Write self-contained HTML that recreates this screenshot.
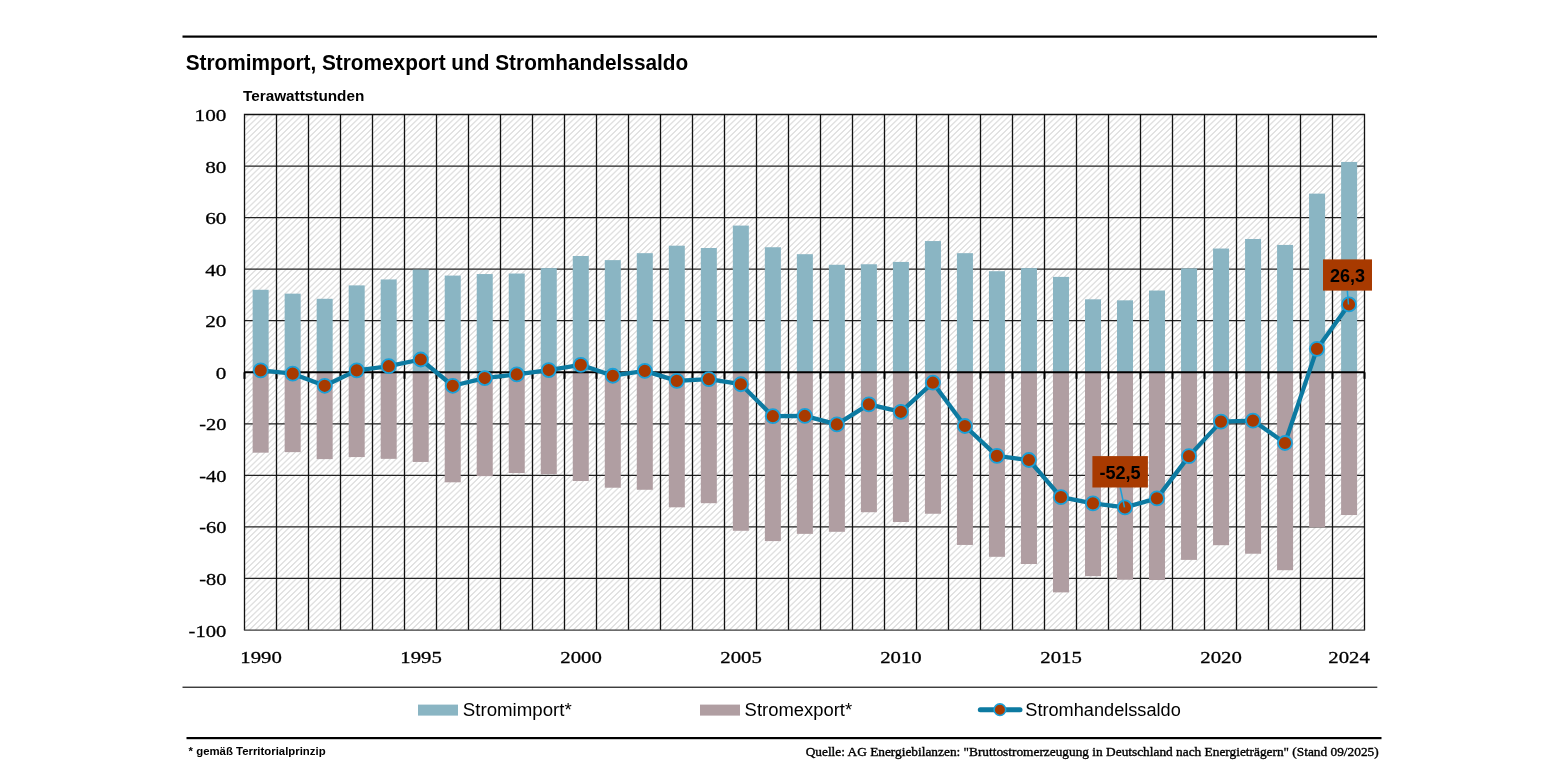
<!DOCTYPE html>
<html><head><meta charset="utf-8">
<style>
html,body{margin:0;padding:0;background:#fff;}
body{width:1545px;height:775px;overflow:hidden;position:relative;}
svg{position:absolute;left:0;top:0;will-change:transform;}
text{font-family:"Liberation Sans",sans-serif;}
.sr{font-family:"Liberation Serif",serif;}
</style></head><body>
<svg width="1545" height="775" viewBox="0 0 1545 775">
<defs>
<pattern id="hatch" patternUnits="userSpaceOnUse" width="6" height="5.8" patternTransform="translate(0.5,0.5)">
<rect width="6" height="5.8" fill="#fff"/>
<path d="M-1.5,1.45 L1.5,-1.45 M0,5.8 L6,0 M4.5,7.25 L7.5,4.35" stroke="#b8b8b8" stroke-width="0.85"/>
</pattern>
</defs>

<rect x="182.5" y="35.5" width="1194.5" height="2.2" fill="#000"/>
<text x="185.7" y="69.7" font-size="22" font-weight="bold" textLength="502.5" lengthAdjust="spacingAndGlyphs">Stromimport, Stromexport und Stromhandelssaldo</text>
<text x="243" y="100.9" font-size="15.4" font-weight="bold" textLength="121.3" lengthAdjust="spacingAndGlyphs">Terawattstunden</text>
<rect x="244.5" y="114.5" width="1120.0" height="515.6" fill="url(#hatch)"/>
<line x1="244.5" y1="578.45" x2="1364.5" y2="578.45" stroke="#222" stroke-width="1.3"/>
<line x1="244.5" y1="526.90" x2="1364.5" y2="526.90" stroke="#222" stroke-width="1.3"/>
<line x1="244.5" y1="475.35" x2="1364.5" y2="475.35" stroke="#222" stroke-width="1.3"/>
<line x1="244.5" y1="423.80" x2="1364.5" y2="423.80" stroke="#222" stroke-width="1.3"/>
<line x1="244.5" y1="320.70" x2="1364.5" y2="320.70" stroke="#222" stroke-width="1.3"/>
<line x1="244.5" y1="269.15" x2="1364.5" y2="269.15" stroke="#222" stroke-width="1.3"/>
<line x1="244.5" y1="217.60" x2="1364.5" y2="217.60" stroke="#222" stroke-width="1.3"/>
<line x1="244.5" y1="166.05" x2="1364.5" y2="166.05" stroke="#222" stroke-width="1.3"/>
<line x1="276.5" y1="114.5" x2="276.5" y2="630.1" stroke="#111" stroke-width="1.3"/>
<line x1="308.5" y1="114.5" x2="308.5" y2="630.1" stroke="#111" stroke-width="1.3"/>
<line x1="340.5" y1="114.5" x2="340.5" y2="630.1" stroke="#111" stroke-width="1.3"/>
<line x1="372.5" y1="114.5" x2="372.5" y2="630.1" stroke="#111" stroke-width="1.3"/>
<line x1="404.5" y1="114.5" x2="404.5" y2="630.1" stroke="#111" stroke-width="1.3"/>
<line x1="436.5" y1="114.5" x2="436.5" y2="630.1" stroke="#111" stroke-width="1.3"/>
<line x1="468.5" y1="114.5" x2="468.5" y2="630.1" stroke="#111" stroke-width="1.3"/>
<line x1="500.5" y1="114.5" x2="500.5" y2="630.1" stroke="#111" stroke-width="1.3"/>
<line x1="532.5" y1="114.5" x2="532.5" y2="630.1" stroke="#111" stroke-width="1.3"/>
<line x1="564.5" y1="114.5" x2="564.5" y2="630.1" stroke="#111" stroke-width="1.3"/>
<line x1="596.5" y1="114.5" x2="596.5" y2="630.1" stroke="#111" stroke-width="1.3"/>
<line x1="628.5" y1="114.5" x2="628.5" y2="630.1" stroke="#111" stroke-width="1.3"/>
<line x1="660.5" y1="114.5" x2="660.5" y2="630.1" stroke="#111" stroke-width="1.3"/>
<line x1="692.5" y1="114.5" x2="692.5" y2="630.1" stroke="#111" stroke-width="1.3"/>
<line x1="724.5" y1="114.5" x2="724.5" y2="630.1" stroke="#111" stroke-width="1.3"/>
<line x1="756.5" y1="114.5" x2="756.5" y2="630.1" stroke="#111" stroke-width="1.3"/>
<line x1="788.5" y1="114.5" x2="788.5" y2="630.1" stroke="#111" stroke-width="1.3"/>
<line x1="820.5" y1="114.5" x2="820.5" y2="630.1" stroke="#111" stroke-width="1.3"/>
<line x1="852.5" y1="114.5" x2="852.5" y2="630.1" stroke="#111" stroke-width="1.3"/>
<line x1="884.5" y1="114.5" x2="884.5" y2="630.1" stroke="#111" stroke-width="1.3"/>
<line x1="916.5" y1="114.5" x2="916.5" y2="630.1" stroke="#111" stroke-width="1.3"/>
<line x1="948.5" y1="114.5" x2="948.5" y2="630.1" stroke="#111" stroke-width="1.3"/>
<line x1="980.5" y1="114.5" x2="980.5" y2="630.1" stroke="#111" stroke-width="1.3"/>
<line x1="1012.5" y1="114.5" x2="1012.5" y2="630.1" stroke="#111" stroke-width="1.3"/>
<line x1="1044.5" y1="114.5" x2="1044.5" y2="630.1" stroke="#111" stroke-width="1.3"/>
<line x1="1076.5" y1="114.5" x2="1076.5" y2="630.1" stroke="#111" stroke-width="1.3"/>
<line x1="1108.5" y1="114.5" x2="1108.5" y2="630.1" stroke="#111" stroke-width="1.3"/>
<line x1="1140.5" y1="114.5" x2="1140.5" y2="630.1" stroke="#111" stroke-width="1.3"/>
<line x1="1172.5" y1="114.5" x2="1172.5" y2="630.1" stroke="#111" stroke-width="1.3"/>
<line x1="1204.5" y1="114.5" x2="1204.5" y2="630.1" stroke="#111" stroke-width="1.3"/>
<line x1="1236.5" y1="114.5" x2="1236.5" y2="630.1" stroke="#111" stroke-width="1.3"/>
<line x1="1268.5" y1="114.5" x2="1268.5" y2="630.1" stroke="#111" stroke-width="1.3"/>
<line x1="1300.5" y1="114.5" x2="1300.5" y2="630.1" stroke="#111" stroke-width="1.3"/>
<line x1="1332.5" y1="114.5" x2="1332.5" y2="630.1" stroke="#111" stroke-width="1.3"/>
<path d="M244.5,630.1 L244.5,114.5 L1364.5,114.5 L1364.5,630.1" fill="none" stroke="#111" stroke-width="1.3"/>
<line x1="243.9" y1="630.1" x2="1365.1" y2="630.1" stroke="#3a3a3a" stroke-width="1.3"/>
<rect x="252.65" y="289.77" width="16" height="82.48" fill="#8ab5c3"/>
<rect x="252.65" y="372.25" width="16" height="80.42" fill="#b09ea2"/>
<rect x="284.6632352941176" y="293.64" width="16" height="78.61" fill="#8ab5c3"/>
<rect x="284.6632352941176" y="372.25" width="16" height="79.90" fill="#b09ea2"/>
<rect x="316.67647058823525" y="298.79" width="16" height="73.46" fill="#8ab5c3"/>
<rect x="316.67647058823525" y="372.25" width="16" height="86.86" fill="#b09ea2"/>
<rect x="348.68970588235294" y="285.39" width="16" height="86.86" fill="#8ab5c3"/>
<rect x="348.68970588235294" y="372.25" width="16" height="84.80" fill="#b09ea2"/>
<rect x="380.7029411764706" y="279.46" width="16" height="92.79" fill="#8ab5c3"/>
<rect x="380.7029411764706" y="372.25" width="16" height="86.60" fill="#b09ea2"/>
<rect x="412.7161764705882" y="269.67" width="16" height="102.58" fill="#8ab5c3"/>
<rect x="412.7161764705882" y="372.25" width="16" height="89.70" fill="#b09ea2"/>
<rect x="444.72941176470584" y="275.59" width="16" height="96.66" fill="#8ab5c3"/>
<rect x="444.72941176470584" y="372.25" width="16" height="110.06" fill="#b09ea2"/>
<rect x="476.7426470588235" y="274.05" width="16" height="98.20" fill="#8ab5c3"/>
<rect x="476.7426470588235" y="372.25" width="16" height="103.87" fill="#b09ea2"/>
<rect x="508.75588235294117" y="273.53" width="16" height="98.72" fill="#8ab5c3"/>
<rect x="508.75588235294117" y="372.25" width="16" height="100.78" fill="#b09ea2"/>
<rect x="540.7691176470588" y="268.12" width="16" height="104.13" fill="#8ab5c3"/>
<rect x="540.7691176470588" y="372.25" width="16" height="101.81" fill="#b09ea2"/>
<rect x="572.7823529411764" y="256.00" width="16" height="116.25" fill="#8ab5c3"/>
<rect x="572.7823529411764" y="372.25" width="16" height="108.77" fill="#b09ea2"/>
<rect x="604.7955882352941" y="260.13" width="16" height="112.12" fill="#8ab5c3"/>
<rect x="604.7955882352941" y="372.25" width="16" height="115.47" fill="#b09ea2"/>
<rect x="636.8088235294117" y="253.17" width="16" height="119.08" fill="#8ab5c3"/>
<rect x="636.8088235294117" y="372.25" width="16" height="117.53" fill="#b09ea2"/>
<rect x="668.8220588235293" y="245.69" width="16" height="126.56" fill="#8ab5c3"/>
<rect x="668.8220588235293" y="372.25" width="16" height="135.06" fill="#b09ea2"/>
<rect x="700.835294117647" y="248.01" width="16" height="124.24" fill="#8ab5c3"/>
<rect x="700.835294117647" y="372.25" width="16" height="130.94" fill="#b09ea2"/>
<rect x="732.8485294117647" y="225.59" width="16" height="146.66" fill="#8ab5c3"/>
<rect x="732.8485294117647" y="372.25" width="16" height="158.52" fill="#b09ea2"/>
<rect x="764.8617647058824" y="247.24" width="16" height="125.01" fill="#8ab5c3"/>
<rect x="764.8617647058824" y="372.25" width="16" height="168.83" fill="#b09ea2"/>
<rect x="796.875" y="254.20" width="16" height="118.05" fill="#8ab5c3"/>
<rect x="796.875" y="372.25" width="16" height="161.61" fill="#b09ea2"/>
<rect x="828.8882352941176" y="264.77" width="16" height="107.48" fill="#8ab5c3"/>
<rect x="828.8882352941176" y="372.25" width="16" height="159.55" fill="#b09ea2"/>
<rect x="860.9014705882353" y="264.25" width="16" height="108.00" fill="#8ab5c3"/>
<rect x="860.9014705882353" y="372.25" width="16" height="139.96" fill="#b09ea2"/>
<rect x="892.9147058823529" y="261.93" width="16" height="110.32" fill="#8ab5c3"/>
<rect x="892.9147058823529" y="372.25" width="16" height="149.75" fill="#b09ea2"/>
<rect x="924.9279411764705" y="241.06" width="16" height="131.19" fill="#8ab5c3"/>
<rect x="924.9279411764705" y="372.25" width="16" height="141.50" fill="#b09ea2"/>
<rect x="956.9411764705882" y="253.17" width="16" height="119.08" fill="#8ab5c3"/>
<rect x="956.9411764705882" y="372.25" width="16" height="172.69" fill="#b09ea2"/>
<rect x="988.9544117647058" y="271.21" width="16" height="101.04" fill="#8ab5c3"/>
<rect x="988.9544117647058" y="372.25" width="16" height="184.55" fill="#b09ea2"/>
<rect x="1020.9676470588236" y="268.12" width="16" height="104.13" fill="#8ab5c3"/>
<rect x="1020.9676470588236" y="372.25" width="16" height="191.77" fill="#b09ea2"/>
<rect x="1052.9808823529413" y="276.88" width="16" height="95.37" fill="#8ab5c3"/>
<rect x="1052.9808823529413" y="372.25" width="16" height="220.12" fill="#b09ea2"/>
<rect x="1084.9941176470588" y="299.31" width="16" height="72.94" fill="#8ab5c3"/>
<rect x="1084.9941176470588" y="372.25" width="16" height="203.88" fill="#b09ea2"/>
<rect x="1117.0073529411766" y="300.34" width="16" height="71.91" fill="#8ab5c3"/>
<rect x="1117.0073529411766" y="372.25" width="16" height="207.49" fill="#b09ea2"/>
<rect x="1149.020588235294" y="290.54" width="16" height="81.71" fill="#8ab5c3"/>
<rect x="1149.020588235294" y="372.25" width="16" height="207.75" fill="#b09ea2"/>
<rect x="1181.0338235294118" y="268.38" width="16" height="103.87" fill="#8ab5c3"/>
<rect x="1181.0338235294118" y="372.25" width="16" height="187.64" fill="#b09ea2"/>
<rect x="1213.0470588235296" y="248.53" width="16" height="123.72" fill="#8ab5c3"/>
<rect x="1213.0470588235296" y="372.25" width="16" height="172.95" fill="#b09ea2"/>
<rect x="1245.0602941176471" y="238.99" width="16" height="133.26" fill="#8ab5c3"/>
<rect x="1245.0602941176471" y="372.25" width="16" height="181.46" fill="#b09ea2"/>
<rect x="1277.0735294117649" y="244.92" width="16" height="127.33" fill="#8ab5c3"/>
<rect x="1277.0735294117649" y="372.25" width="16" height="197.95" fill="#b09ea2"/>
<rect x="1309.0867647058824" y="193.63" width="16" height="178.62" fill="#8ab5c3"/>
<rect x="1309.0867647058824" y="372.25" width="16" height="155.17" fill="#b09ea2"/>
<rect x="1341.1000000000001" y="161.93" width="16" height="210.32" fill="#8ab5c3"/>
<rect x="1341.1000000000001" y="372.25" width="16" height="142.79" fill="#b09ea2"/>
<line x1="244.5" y1="372.25" x2="1364.5" y2="372.25" stroke="#000" stroke-width="2"/>
<line x1="244.5" y1="372.25" x2="244.5" y2="378.85" stroke="#000" stroke-width="2"/>
<line x1="276.5" y1="372.25" x2="276.5" y2="378.85" stroke="#000" stroke-width="2"/>
<line x1="308.5" y1="372.25" x2="308.5" y2="378.85" stroke="#000" stroke-width="2"/>
<line x1="340.5" y1="372.25" x2="340.5" y2="378.85" stroke="#000" stroke-width="2"/>
<line x1="372.5" y1="372.25" x2="372.5" y2="378.85" stroke="#000" stroke-width="2"/>
<line x1="404.5" y1="372.25" x2="404.5" y2="378.85" stroke="#000" stroke-width="2"/>
<line x1="436.5" y1="372.25" x2="436.5" y2="378.85" stroke="#000" stroke-width="2"/>
<line x1="468.5" y1="372.25" x2="468.5" y2="378.85" stroke="#000" stroke-width="2"/>
<line x1="500.5" y1="372.25" x2="500.5" y2="378.85" stroke="#000" stroke-width="2"/>
<line x1="532.5" y1="372.25" x2="532.5" y2="378.85" stroke="#000" stroke-width="2"/>
<line x1="564.5" y1="372.25" x2="564.5" y2="378.85" stroke="#000" stroke-width="2"/>
<line x1="596.5" y1="372.25" x2="596.5" y2="378.85" stroke="#000" stroke-width="2"/>
<line x1="628.5" y1="372.25" x2="628.5" y2="378.85" stroke="#000" stroke-width="2"/>
<line x1="660.5" y1="372.25" x2="660.5" y2="378.85" stroke="#000" stroke-width="2"/>
<line x1="692.5" y1="372.25" x2="692.5" y2="378.85" stroke="#000" stroke-width="2"/>
<line x1="724.5" y1="372.25" x2="724.5" y2="378.85" stroke="#000" stroke-width="2"/>
<line x1="756.5" y1="372.25" x2="756.5" y2="378.85" stroke="#000" stroke-width="2"/>
<line x1="788.5" y1="372.25" x2="788.5" y2="378.85" stroke="#000" stroke-width="2"/>
<line x1="820.5" y1="372.25" x2="820.5" y2="378.85" stroke="#000" stroke-width="2"/>
<line x1="852.5" y1="372.25" x2="852.5" y2="378.85" stroke="#000" stroke-width="2"/>
<line x1="884.5" y1="372.25" x2="884.5" y2="378.85" stroke="#000" stroke-width="2"/>
<line x1="916.5" y1="372.25" x2="916.5" y2="378.85" stroke="#000" stroke-width="2"/>
<line x1="948.5" y1="372.25" x2="948.5" y2="378.85" stroke="#000" stroke-width="2"/>
<line x1="980.5" y1="372.25" x2="980.5" y2="378.85" stroke="#000" stroke-width="2"/>
<line x1="1012.5" y1="372.25" x2="1012.5" y2="378.85" stroke="#000" stroke-width="2"/>
<line x1="1044.5" y1="372.25" x2="1044.5" y2="378.85" stroke="#000" stroke-width="2"/>
<line x1="1076.5" y1="372.25" x2="1076.5" y2="378.85" stroke="#000" stroke-width="2"/>
<line x1="1108.5" y1="372.25" x2="1108.5" y2="378.85" stroke="#000" stroke-width="2"/>
<line x1="1140.5" y1="372.25" x2="1140.5" y2="378.85" stroke="#000" stroke-width="2"/>
<line x1="1172.5" y1="372.25" x2="1172.5" y2="378.85" stroke="#000" stroke-width="2"/>
<line x1="1204.5" y1="372.25" x2="1204.5" y2="378.85" stroke="#000" stroke-width="2"/>
<line x1="1236.5" y1="372.25" x2="1236.5" y2="378.85" stroke="#000" stroke-width="2"/>
<line x1="1268.5" y1="372.25" x2="1268.5" y2="378.85" stroke="#000" stroke-width="2"/>
<line x1="1300.5" y1="372.25" x2="1300.5" y2="378.85" stroke="#000" stroke-width="2"/>
<line x1="1332.5" y1="372.25" x2="1332.5" y2="378.85" stroke="#000" stroke-width="2"/>
<line x1="1364.5" y1="372.25" x2="1364.5" y2="378.85" stroke="#000" stroke-width="2"/>
<polyline points="260.70,370.32 292.71,373.67 324.72,385.78 356.73,370.32 388.74,366.19 420.74,359.49 452.75,385.78 484.76,378.05 516.77,374.44 548.78,370.06 580.79,364.90 612.80,375.73 644.81,370.83 676.81,380.88 708.82,379.08 740.83,384.24 772.84,416.20 804.85,415.94 836.86,424.44 868.87,404.34 900.88,411.81 932.89,382.69 964.89,425.99 996.90,455.89 1028.91,460.01 1060.92,497.13 1092.93,503.32 1124.94,507.44 1156.95,498.42 1188.96,456.15 1220.96,421.61 1252.97,420.58 1284.98,443.00 1316.99,348.92 1349.00,304.46" fill="none" stroke="#0d7aa1" stroke-width="4.3" stroke-linejoin="round"/>
<circle cx="260.70" cy="370.32" r="7.0" fill="#a83a00" stroke="#1ba0d8" stroke-width="1.8"/>
<circle cx="292.71" cy="373.67" r="7.0" fill="#a83a00" stroke="#1ba0d8" stroke-width="1.8"/>
<circle cx="324.72" cy="385.78" r="7.0" fill="#a83a00" stroke="#1ba0d8" stroke-width="1.8"/>
<circle cx="356.73" cy="370.32" r="7.0" fill="#a83a00" stroke="#1ba0d8" stroke-width="1.8"/>
<circle cx="388.74" cy="366.19" r="7.0" fill="#a83a00" stroke="#1ba0d8" stroke-width="1.8"/>
<circle cx="420.74" cy="359.49" r="7.0" fill="#a83a00" stroke="#1ba0d8" stroke-width="1.8"/>
<circle cx="452.75" cy="385.78" r="7.0" fill="#a83a00" stroke="#1ba0d8" stroke-width="1.8"/>
<circle cx="484.76" cy="378.05" r="7.0" fill="#a83a00" stroke="#1ba0d8" stroke-width="1.8"/>
<circle cx="516.77" cy="374.44" r="7.0" fill="#a83a00" stroke="#1ba0d8" stroke-width="1.8"/>
<circle cx="548.78" cy="370.06" r="7.0" fill="#a83a00" stroke="#1ba0d8" stroke-width="1.8"/>
<circle cx="580.79" cy="364.90" r="7.0" fill="#a83a00" stroke="#1ba0d8" stroke-width="1.8"/>
<circle cx="612.80" cy="375.73" r="7.0" fill="#a83a00" stroke="#1ba0d8" stroke-width="1.8"/>
<circle cx="644.81" cy="370.83" r="7.0" fill="#a83a00" stroke="#1ba0d8" stroke-width="1.8"/>
<circle cx="676.81" cy="380.88" r="7.0" fill="#a83a00" stroke="#1ba0d8" stroke-width="1.8"/>
<circle cx="708.82" cy="379.08" r="7.0" fill="#a83a00" stroke="#1ba0d8" stroke-width="1.8"/>
<circle cx="740.83" cy="384.24" r="7.0" fill="#a83a00" stroke="#1ba0d8" stroke-width="1.8"/>
<circle cx="772.84" cy="416.20" r="7.0" fill="#a83a00" stroke="#1ba0d8" stroke-width="1.8"/>
<circle cx="804.85" cy="415.94" r="7.0" fill="#a83a00" stroke="#1ba0d8" stroke-width="1.8"/>
<circle cx="836.86" cy="424.44" r="7.0" fill="#a83a00" stroke="#1ba0d8" stroke-width="1.8"/>
<circle cx="868.87" cy="404.34" r="7.0" fill="#a83a00" stroke="#1ba0d8" stroke-width="1.8"/>
<circle cx="900.88" cy="411.81" r="7.0" fill="#a83a00" stroke="#1ba0d8" stroke-width="1.8"/>
<circle cx="932.89" cy="382.69" r="7.0" fill="#a83a00" stroke="#1ba0d8" stroke-width="1.8"/>
<circle cx="964.89" cy="425.99" r="7.0" fill="#a83a00" stroke="#1ba0d8" stroke-width="1.8"/>
<circle cx="996.90" cy="455.89" r="7.0" fill="#a83a00" stroke="#1ba0d8" stroke-width="1.8"/>
<circle cx="1028.91" cy="460.01" r="7.0" fill="#a83a00" stroke="#1ba0d8" stroke-width="1.8"/>
<circle cx="1060.92" cy="497.13" r="7.0" fill="#a83a00" stroke="#1ba0d8" stroke-width="1.8"/>
<circle cx="1092.93" cy="503.32" r="7.0" fill="#a83a00" stroke="#1ba0d8" stroke-width="1.8"/>
<circle cx="1124.94" cy="507.44" r="7.0" fill="#a83a00" stroke="#1ba0d8" stroke-width="1.8"/>
<circle cx="1156.95" cy="498.42" r="7.0" fill="#a83a00" stroke="#1ba0d8" stroke-width="1.8"/>
<circle cx="1188.96" cy="456.15" r="7.0" fill="#a83a00" stroke="#1ba0d8" stroke-width="1.8"/>
<circle cx="1220.96" cy="421.61" r="7.0" fill="#a83a00" stroke="#1ba0d8" stroke-width="1.8"/>
<circle cx="1252.97" cy="420.58" r="7.0" fill="#a83a00" stroke="#1ba0d8" stroke-width="1.8"/>
<circle cx="1284.98" cy="443.00" r="7.0" fill="#a83a00" stroke="#1ba0d8" stroke-width="1.8"/>
<circle cx="1316.99" cy="348.92" r="7.0" fill="#a83a00" stroke="#1ba0d8" stroke-width="1.8"/>
<circle cx="1349.00" cy="304.46" r="7.0" fill="#a83a00" stroke="#1ba0d8" stroke-width="1.8"/>
<line x1="1120.2" y1="487.5" x2="1124.50" y2="507.44" stroke="#1ba0d8" stroke-width="1.5"/>
<line x1="1347.3" y1="290.6" x2="1348.50" y2="304.46" stroke="#1ba0d8" stroke-width="1.5"/>
<rect x="1092.4" y="456.1" width="55.5" height="31.4" fill="#a83a00"/>
<text x="1099.4" y="478.8" font-size="17.5" font-weight="bold" textLength="41.3" lengthAdjust="spacingAndGlyphs">-52,5</text>
<rect x="1323" y="259.4" width="49" height="31.2" fill="#a83a00"/>
<text x="1330" y="281.6" font-size="17.5" font-weight="bold" textLength="35" lengthAdjust="spacingAndGlyphs">26,3</text>
<text class="sr" x="226.4" y="636.50" font-size="17.6" stroke="#000" stroke-width="0.3" text-anchor="end" textLength="37.8" lengthAdjust="spacingAndGlyphs">-100</text>
<text class="sr" x="226.4" y="584.95" font-size="17.6" stroke="#000" stroke-width="0.3" text-anchor="end" textLength="27.2" lengthAdjust="spacingAndGlyphs">-80</text>
<text class="sr" x="226.4" y="533.40" font-size="17.6" stroke="#000" stroke-width="0.3" text-anchor="end" textLength="27.2" lengthAdjust="spacingAndGlyphs">-60</text>
<text class="sr" x="226.4" y="481.85" font-size="17.6" stroke="#000" stroke-width="0.3" text-anchor="end" textLength="27.2" lengthAdjust="spacingAndGlyphs">-40</text>
<text class="sr" x="226.4" y="430.30" font-size="17.6" stroke="#000" stroke-width="0.3" text-anchor="end" textLength="27.2" lengthAdjust="spacingAndGlyphs">-20</text>
<text class="sr" x="226.4" y="378.75" font-size="17.6" stroke="#000" stroke-width="0.3" text-anchor="end" textLength="10.6" lengthAdjust="spacingAndGlyphs">0</text>
<text class="sr" x="226.4" y="327.20" font-size="17.6" stroke="#000" stroke-width="0.3" text-anchor="end" textLength="21.2" lengthAdjust="spacingAndGlyphs">20</text>
<text class="sr" x="226.4" y="275.65" font-size="17.6" stroke="#000" stroke-width="0.3" text-anchor="end" textLength="21.2" lengthAdjust="spacingAndGlyphs">40</text>
<text class="sr" x="226.4" y="224.10" font-size="17.6" stroke="#000" stroke-width="0.3" text-anchor="end" textLength="21.2" lengthAdjust="spacingAndGlyphs">60</text>
<text class="sr" x="226.4" y="172.55" font-size="17.6" stroke="#000" stroke-width="0.3" text-anchor="end" textLength="21.2" lengthAdjust="spacingAndGlyphs">80</text>
<text class="sr" x="226.4" y="121.00" font-size="17.6" stroke="#000" stroke-width="0.3" text-anchor="end" textLength="31.8" lengthAdjust="spacingAndGlyphs">100</text>
<text class="sr" x="261.00" y="662.9" font-size="17.6" stroke="#000" stroke-width="0.3" text-anchor="middle" textLength="41.5" lengthAdjust="spacingAndGlyphs">1990</text>
<text class="sr" x="421.00" y="662.9" font-size="17.6" stroke="#000" stroke-width="0.3" text-anchor="middle" textLength="41.5" lengthAdjust="spacingAndGlyphs">1995</text>
<text class="sr" x="581.00" y="662.9" font-size="17.6" stroke="#000" stroke-width="0.3" text-anchor="middle" textLength="41.5" lengthAdjust="spacingAndGlyphs">2000</text>
<text class="sr" x="741.00" y="662.9" font-size="17.6" stroke="#000" stroke-width="0.3" text-anchor="middle" textLength="41.5" lengthAdjust="spacingAndGlyphs">2005</text>
<text class="sr" x="901.00" y="662.9" font-size="17.6" stroke="#000" stroke-width="0.3" text-anchor="middle" textLength="41.5" lengthAdjust="spacingAndGlyphs">2010</text>
<text class="sr" x="1061.00" y="662.9" font-size="17.6" stroke="#000" stroke-width="0.3" text-anchor="middle" textLength="41.5" lengthAdjust="spacingAndGlyphs">2015</text>
<text class="sr" x="1221.00" y="662.9" font-size="17.6" stroke="#000" stroke-width="0.3" text-anchor="middle" textLength="41.5" lengthAdjust="spacingAndGlyphs">2020</text>
<text class="sr" x="1349.00" y="662.9" font-size="17.6" stroke="#000" stroke-width="0.3" text-anchor="middle" textLength="41.5" lengthAdjust="spacingAndGlyphs">2024</text>
<rect x="182.5" y="686.6" width="1194.8" height="1.3" fill="#2a2a2a"/>
<rect x="186.5" y="737" width="1195" height="2.2" fill="#000"/>
<rect x="418" y="704.6" width="40" height="11" fill="#8ab5c3"/>
<text x="462.8" y="715.7" font-size="17.5" textLength="109" lengthAdjust="spacingAndGlyphs">Stromimport*</text>
<rect x="700" y="704.6" width="40" height="11" fill="#b09ea2"/>
<text x="744.6" y="715.7" font-size="17.5" textLength="107.5" lengthAdjust="spacingAndGlyphs">Stromexport*</text>
<line x1="980.3" y1="709.7" x2="1020" y2="709.7" stroke="#0d7aa1" stroke-width="5" stroke-linecap="round"/>
<circle cx="999.9" cy="709.7" r="5.8" fill="#a83a00" stroke="#1ba0d8" stroke-width="1.6"/>
<text x="1025.3" y="715.7" font-size="17.5" textLength="155.5" lengthAdjust="spacingAndGlyphs">Stromhandelssaldo</text>
<text x="188.6" y="755.2" font-size="11.5" font-weight="bold" textLength="137" lengthAdjust="spacingAndGlyphs">* gemäß Territorialprinzip</text>
<text class="sr" x="805.7" y="756.1" font-size="11.9" stroke="#000" stroke-width="0.35" textLength="573" lengthAdjust="spacingAndGlyphs">Quelle: AG Energiebilanzen: "Bruttostromerzeugung in Deutschland nach Energieträgern" (Stand 09/2025)</text>
</svg></body></html>
